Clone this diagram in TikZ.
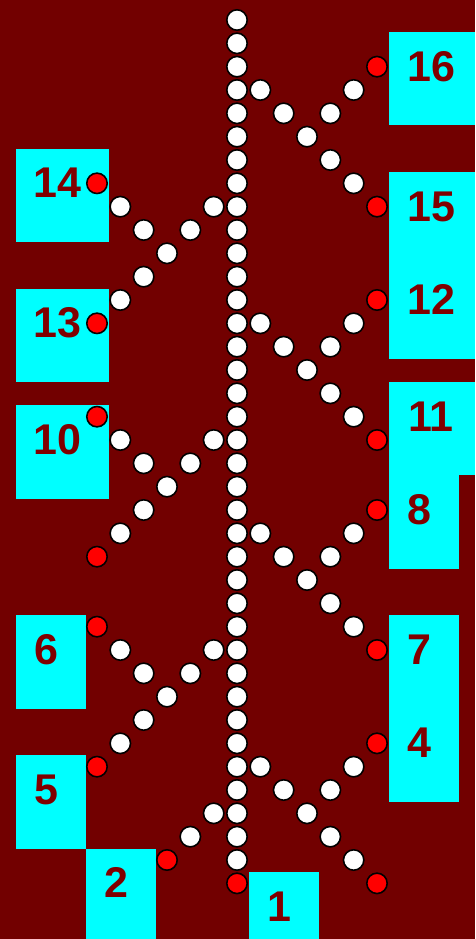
\documentclass[tikz,border=0pt]{standalone}
\usepackage{fontspec}
\setmainfont{Liberation Sans}
\usetikzlibrary{positioning}
\definecolor{bgred}{RGB}{114,0,0}
\definecolor{numred}{RGB}{128,0,0}
\definecolor{boxcyan}{RGB}{0,255,255}

\begin{document}
\begin{tikzpicture}[x=23.333pt, y=-23.333pt,
    ball/.style={circle, draw=black, line width=1.6pt, fill=white, minimum size=20.4pt, inner sep=0pt},
    endball/.style={ball, fill=red},
    numbox/.style={rectangle, fill=boxcyan, anchor=north west, inner sep=0pt,
        minimum height=93.33pt, text=numred, text height=32pt, text depth=26.6pt,
        font=\fontsize{43}{43}\selectfont\bfseries, execute at end node={\kern9pt}}]
    % Background
    \useasboundingbox (-10.157,-0.857) rectangle (10.2,39.386);
    \clip (-10.157,-0.857) rectangle (10.2,39.386);
    \fill[bgred] (-10.157,-0.857) rectangle (10.2,39.386);

    % Number boxes
    \foreach \n/\x/\y/\w in {16/6.5/0.5/4, 15/6.5/6.5/4, 12/6.5/10.5/4, 11/6.5/15.5/4,
        8/6.5/19.5/3, 7/6.5/25.5/3, 4/6.5/29.5/3,
        14/-9.5/5.5/4, 13/-9.5/11.5/4, 10/-9.5/16.5/4, 6/-9.5/25.5/3, 5/-9.5/31.5/3,
        2/-6.5/35.5/3, 1/0.5/36.5/3}
        \node[numbox, minimum width=\w*23.333pt] (b\n) at (\x,\y) {\n};

    % Central column
    \foreach \j in {0,...,36}
        \node[ball] (c\j) at (0,\j) {};
    \node[endball] (e1) at (0,37) {};

    % Branches to the right
    \foreach \s in {3,13,22,32} {
        \foreach \k in {1,...,5}
            \node[ball] (ra\s-\k) at (\k,\s+\k-1) {};
        \node[endball] (ra\s-6) at (6,\s+5) {};
        \node[ball] (rb\s-4) at (4,\s+1) {};
        \node[ball] (rb\s-5) at (5,\s) {};
        \node[endball] (rb\s-6) at (6,\s-1) {};
    }

    % Branches to the left
    \foreach \s in {8,18,27} {
        \foreach \k in {1,...,5}
            \node[ball] (la\s-\k) at (-\k,\s+\k-1) {};
        \node[endball] (la\s-6) at (-6,\s+5) {};
        \node[ball] (lb\s-4) at (-4,\s+1) {};
        \node[ball] (lb\s-5) at (-5,\s) {};
        \node[endball] (lb\s-6) at (-6,\s-1) {};
    }

    % Short branch at the bottom
    \node[ball] (la34-1) at (-1,34) {};
    \node[ball] (la34-2) at (-2,35) {};
    \node[endball] (e2) at (-3,36) {};
\end{tikzpicture}
\end{document}
